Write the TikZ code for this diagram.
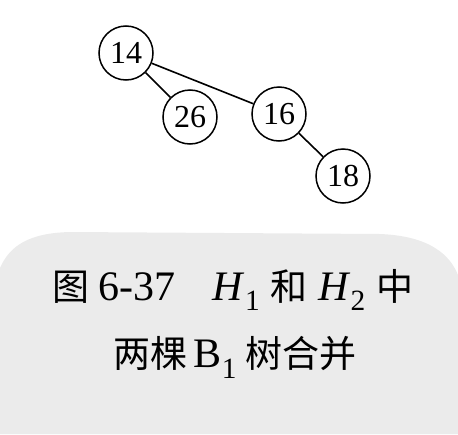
\documentclass[tikz,border=0pt]{standalone}
\usepackage{fontspec}
\setmainfont{Liberation Serif}
\newfontfamily\cjk{Noto Sans CJK SC}
\newcommand{\cj}[1]{{\cjk\fontsize{37}{42}\selectfont #1}}
\begin{document}
\begin{tikzpicture}[x=1pt,y=-1pt,
  keynode/.style={circle,draw,line width=1.5pt,minimum size=54pt,inner sep=0pt,font=\fontsize{32}{34}\selectfont},
  edge/.style={line width=1.6pt},
  caption/.style={font=\fontsize{42}{46}\selectfont,anchor=center,inner sep=0pt}]
\useasboundingbox (0,0) rectangle (458,434);
\fill[black!8] (0,434) -- (0,268) .. controls (10,245) and (30,233) .. (70,232)
  -- (380,234) .. controls (430,236) and (450,255) .. (458,275) -- (458,434) -- cycle;
\node[keynode] (n14) at (126,53) {14};
\node[keynode] (n26) at (190,117) {26};
\node[keynode] (n16) at (279,114) {16};
\node[keynode] (n18) at (343,176) {18};
\draw[edge] (n14) -- (n26);
\draw[edge] (n14) -- (n16);
\draw[edge] (n16) -- (n18);
\node[caption] (cap1) at (233,290) {\cj{图}\hspace{0.2em}6-37\hspace{0.9em}\textit{H}\textsubscript{1}\hspace{0.25em}\cj{和}\hspace{0.25em}\textit{H}\textsubscript{2}\hspace{0.25em}\cj{中}};
\node[caption] (cap2) at (235,357) {\cj{两棵}\hspace{0.15em}B\textsubscript{1}\hspace{0.2em}\cj{树合并}};
\end{tikzpicture}
\end{document}
